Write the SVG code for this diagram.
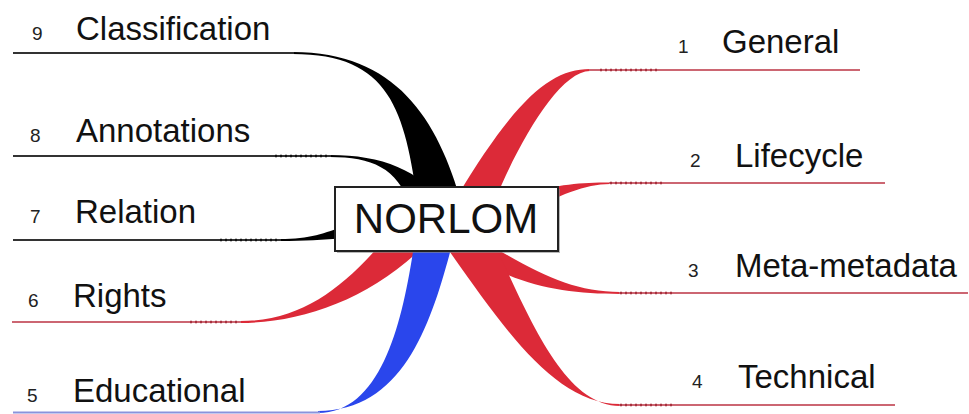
<svg xmlns="http://www.w3.org/2000/svg" width="969" height="414" viewBox="0 0 969 414">
<style>
.lbl{font-family:"Liberation Sans",Arial,Helvetica,sans-serif;font-size:33px;fill:#111}
.num{font-family:"Liberation Sans",Arial,Helvetica,sans-serif;font-size:19px;fill:#222}
.bl{stroke:#333;stroke-width:2;fill:none}
.rl{stroke:#cc6672;stroke-width:2;fill:none}
.ul{stroke:#8a93dc;stroke-width:2;fill:none}
.bd{stroke:#111;stroke-width:2.4;stroke-dasharray:2 3;fill:none}
.rd{stroke:#a8303e;stroke-width:2.4;stroke-dasharray:2 3;fill:none}
.black{fill:#000}
.red{fill:#dc2a38}
.blue{fill:#2a46ec}
</style>
<rect width="969" height="414" fill="#fff"/>
<g id="connectors">
  <!-- 9 Classification -->
  <path class="black" d="M293,54 C390,54 405,110 418,205 L462,205 C438,118 395,52 293,52 Z"/>
  <!-- 8 Annotations -->
  <path class="black" d="M330,157 C372,157 397,168 410,205 L445,205 C420,170 382,155 330,155 Z"/>
  <!-- 7 Relation -->
  <path class="black" d="M280,239 C310,239 325,233 345,226 L345,238 C322,240 305,241 280,241 Z"/>
  <!-- 6 Rights -->
  <path class="red" d="M240,321 C300,321 340,290 380,245 L425,245 C370,300 300,323 240,323 Z"/>
  <!-- 5 Educational -->
  <path class="blue" d="M318,413 C382,413 403,320 414,245 L452,245 C432,320 405,411 318,411 Z"/>
  <!-- 1 General -->
  <path class="red" d="M590,69 C550,69 515,100 455,200 L495,200 C520,140 560,71 590,71 Z"/>
  <!-- 2 Lifecycle -->
  <path class="red" d="M610,182.5 C580,182.5 560,184 520,195 L520,215 C560,195 585,184 610,184 Z"/>
  <!-- 3 Meta-metadata -->
  <path class="red" d="M620,292 C575,292 540,275 490,245 L455,245 C510,285 560,294 620,294 Z"/>
  <!-- 4 Technical -->
  <path class="red" d="M620,404 C555,404 505,330 445,245 L495,245 C530,320 565,406 620,406 Z"/>

  <line class="bl" x1="13" y1="53" x2="294" y2="53"/>
  <line class="bl" x1="13" y1="156" x2="331" y2="156"/>
  <line class="bd" x1="275" y1="156" x2="330" y2="156"/>
  <line class="bl" x1="13" y1="240" x2="281" y2="240"/>
  <line class="bd" x1="220" y1="240" x2="280" y2="240"/>
  <line class="rl" x1="12" y1="322" x2="241" y2="322"/>
  <line class="rd" x1="190" y1="322" x2="240" y2="322"/>
  <line class="ul" x1="13" y1="412.5" x2="320" y2="412.5"/>

  <line class="rl" x1="589" y1="70" x2="860" y2="70"/>
  <line class="rd" x1="600" y1="70" x2="660" y2="70"/>
  <line class="rl" x1="609" y1="183" x2="885" y2="183"/>
  <line class="rd" x1="610" y1="183" x2="665" y2="183"/>
  <line class="rl" x1="619" y1="293" x2="968" y2="293"/>
  <line class="rd" x1="620" y1="293" x2="672" y2="293"/>
  <line class="rl" x1="619" y1="405" x2="895" y2="405"/>
  <line class="rd" x1="620" y1="405" x2="675" y2="405"/>
</g>
<g id="node-norlom">
  <rect x="337" y="189" width="223" height="64" fill="#888" opacity="0.6"/>
  <rect x="335" y="187" width="223" height="64" fill="#fff" stroke="#222" stroke-width="2"/>
  <text x="446" y="233" text-anchor="middle" font-family="Liberation Sans,Arial,sans-serif" font-size="42" fill="#111">NORLOM</text>
</g>
<g id="node-9"><text class="num" x="32" y="40">9</text><text class="lbl" x="76" y="40">Classification</text></g>
<g id="node-8"><text class="num" x="30" y="142">8</text><text class="lbl" x="76" y="142">Annotations</text></g>
<g id="node-7"><text class="num" x="30" y="223">7</text><text class="lbl" x="75" y="223">Relation</text></g>
<g id="node-6"><text class="num" x="28" y="307">6</text><text class="lbl" x="73" y="307">Rights</text></g>
<g id="node-5"><text class="num" x="27" y="402">5</text><text class="lbl" x="73" y="402">Educational</text></g>
<g id="node-1"><text class="num" x="678" y="53">1</text><text class="lbl" x="722" y="53">General</text></g>
<g id="node-2"><text class="num" x="690" y="167">2</text><text class="lbl" x="735" y="167">Lifecycle</text></g>
<g id="node-3"><text class="num" x="688" y="277">3</text><text class="lbl" x="735" y="277">Meta-metadata</text></g>
<g id="node-4"><text class="num" x="692" y="388">4</text><text class="lbl" x="738" y="388">Technical</text></g>
</svg>
